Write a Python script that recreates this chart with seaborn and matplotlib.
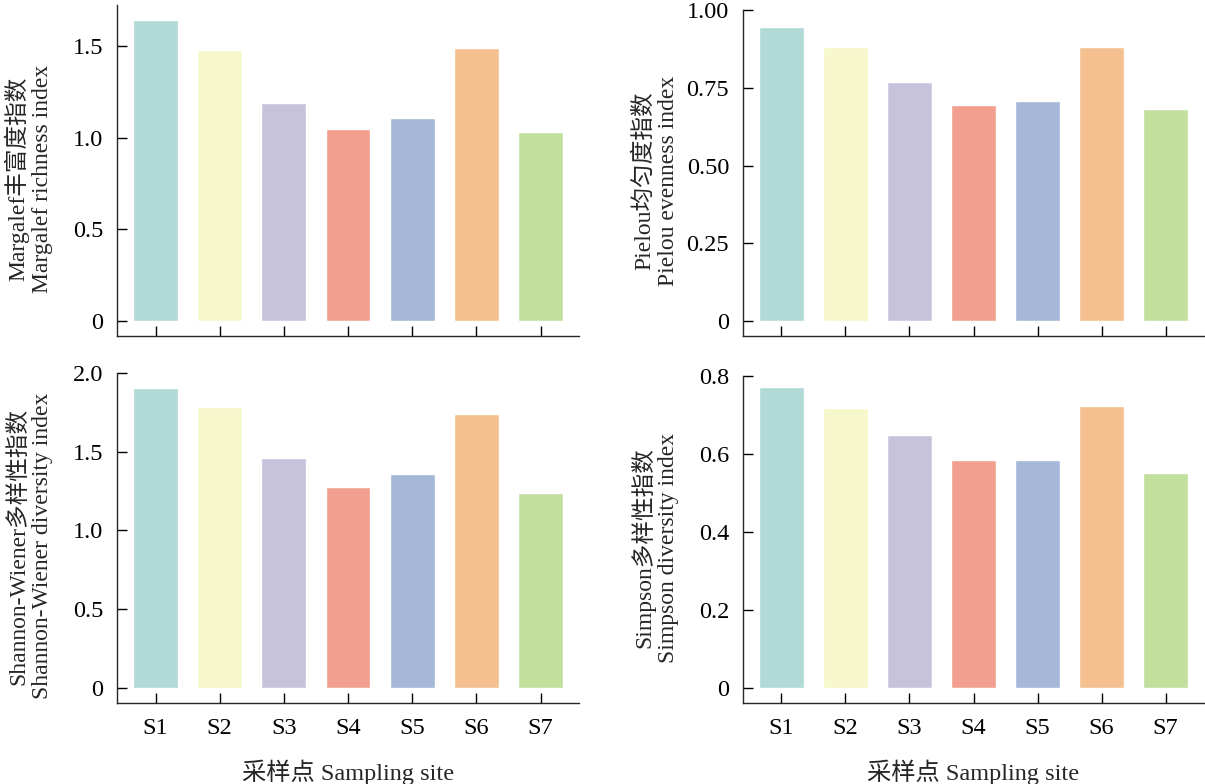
import numpy as np
import pandas as pd
import matplotlib
matplotlib.use('Agg')
import matplotlib.pyplot as plt
import seaborn as sns

sites = ['S1', 'S2', 'S3', 'S4', 'S5', 'S6', 'S7']
bar_colors = ['#B1D9D7', '#F6F7CB', '#C8C3DD', '#F29F8F', '#A5B8D7', '#F5C08F', '#C2DF9D']

margalef = [1.64, 1.48, 1.19, 1.05, 1.11, 1.49, 1.03]
pielou = [0.945, 0.88, 0.77, 0.695, 0.708, 0.88, 0.683]
shannon = [1.905, 1.78, 1.456, 1.278, 1.36, 1.74, 1.24]
simpson = [0.772, 0.718, 0.649, 0.585, 0.585, 0.722, 0.551]

margalef_ticks = [0, 0.5, 1.0, 1.5]
margalef_ticklabels = ['0', '0.5', '1.0', '1.5']
pielou_ticks = [0, 0.25, 0.5, 0.75, 1.0]
pielou_ticklabels = ['0', '0.25', '0.50', '0.75', '1.00']
shannon_ticks = [0, 0.5, 1.0, 1.5, 2.0]
shannon_ticklabels = ['0', '0.5', '1.0', '1.5', '2.0']
simpson_ticks = [0, 0.2, 0.4, 0.6, 0.8]
simpson_ticklabels = ['0', '0.2', '0.4', '0.6', '0.8']

sns.set_style('ticks')
plt.rcParams['font.family'] = ['Liberation Serif', 'Noto Sans CJK SC']
plt.rcParams['axes.linewidth'] = 1.0
plt.rcParams['axes.unicode_minus'] = False

fig = plt.figure(figsize=(12.05, 7.84), dpi=100)

panels = [
    # rect, values, ylim, ticks, ticklabels, ylabel, show xlabels
    ([0.0971, 0.5714, 0.3834, 0.4222], margalef, (-0.082, 1.724), margalef_ticks, margalef_ticklabels,
     'Margalef丰富度指数\nMargalef richness index', False),
    ([0.6166, 0.5714, 0.3826, 0.4158], pielou, (-0.048, 1.0), pielou_ticks, pielou_ticklabels,
     'Pielou均匀度指数\nPielou evenness index', False),
    ([0.0971, 0.1033, 0.3834, 0.4213], shannon, (-0.095, 2.0), shannon_ticks, shannon_ticklabels,
     'Shannon-Wiener多样性指数\nShannon-Wiener diversity index', True),
    ([0.6166, 0.1033, 0.3826, 0.4170], simpson, (-0.0385, 0.8), simpson_ticks, simpson_ticklabels,
     'Simpson多样性指数\nSimpson diversity index', True),
]

for rect, vals, ylim, ticks, ticklabels, ylabel, show_x in panels:
    ax = fig.add_axes(rect)
    df = pd.DataFrame({'site': sites, 'value': vals})
    sns.barplot(data=df, x='site', y='value', hue='site', palette=bar_colors,
                legend=False, width=0.7, saturation=1, ax=ax)
    ax.set_xlim(-0.6, 6.6)
    ax.set_ylim(*ylim)
    ax.set_yticks(ticks)
    ax.set_yticklabels(ticklabels)
    sns.despine(ax=ax)
    ax.tick_params(axis='both', direction='in', length=7, width=1.0,
                   labelsize=17.5, colors='black')
    ax.tick_params(axis='x', pad=11)
    ax.tick_params(axis='y', pad=10)
    ax.set_ylabel(ylabel, fontsize=17, linespacing=1.2)
    ax.yaxis.set_label_coords(-0.138, 0.475)
    if show_x:
        ax.set_xlabel('采样点 Sampling site', fontsize=17.5)
        ax.xaxis.set_label_coords(0.5, -0.172)
    else:
        ax.set_xlabel('')
        ax.set_xticklabels([])

fig.savefig('out.png', dpi=100)
